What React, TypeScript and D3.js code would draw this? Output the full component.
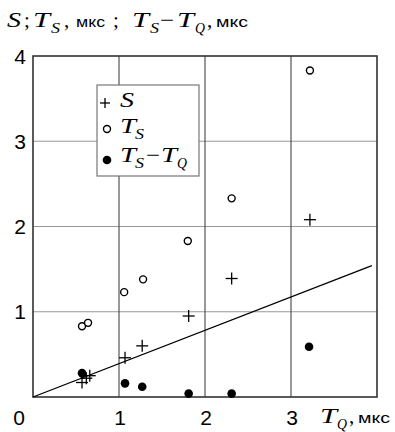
import React from "react";
import * as d3 from "d3";

const xTicks = [1, 2, 3];
const yTicks = [1, 2, 3];
const xTickLabels = ["1", "2", "3"];
const yTickLabels = ["1", "2", "3", "4"];

const sTQ = [0.57, 0.62, 0.66, 1.07, 1.27, 1.81, 2.31, 3.22];
const sVal = [0.17, 0.22, 0.25, 0.46, 0.6, 0.95, 1.39, 2.08];

const tsTQ = [0.57, 0.64, 1.06, 1.28, 1.8, 2.31, 3.22];
const tsVal = [0.83, 0.87, 1.23, 1.38, 1.83, 2.33, 3.83];

const dTQ = [0.57, 1.07, 1.27, 1.81, 2.31, 3.21];
const dVal = [0.28, 0.16, 0.12, 0.04, 0.04, 0.59];

const fitLine = [
  { x: 0, y: 0 },
  { x: 3.94, y: 1.54 },
];

const W = 395;
const H = 432;
const serif = "'Liberation Serif', 'DejaVu Serif', serif";
const sans = "'Liberation Sans', Arial, sans-serif";

type Piece = { t: string; x: number; k: "it" | "sub" | "up" | "unit"; len?: number };

function MathText({ pieces, y, size = 21 }: { pieces: Piece[]; y: number; size?: number }) {
  return (
    <g>
      {pieces.map((p, i) => {
        const stretch = p.len ? { textLength: p.len, lengthAdjust: "spacingAndGlyphs" } : {};
        if (p.k === "it")
          return (
            <text key={i} x={p.x} y={y} fontFamily={serif} fontStyle="italic" fontSize={size} {...stretch}>
              {p.t}
            </text>
          );
        if (p.k === "sub")
          return (
            <text key={i} x={p.x} y={y + 6} fontFamily={serif} fontStyle="italic" fontSize={size * 0.72} {...stretch}>
              {p.t}
            </text>
          );
        if (p.k === "up")
          return (
            <text key={i} x={p.x} y={y} fontFamily={serif} fontSize={size} {...stretch}>
              {p.t}
            </text>
          );
        return (
          <text key={i} x={p.x} y={y} fontFamily={sans} fontSize={14.5} {...stretch}>
            {p.t}
          </text>
        );
      })}
    </g>
  );
}

export default function App() {
  const x = d3.scaleLinear().domain([0, 4]).range([33, 377]);
  const y = d3.scaleLinear().domain([0, 4]).range([397, 56]);
  const line = d3
    .line<{ x: number; y: number }>()
    .x((d) => x(d.x))
    .y((d) => y(d.y));

  const cross = (cx: number, cy: number, k: string, r = 6) => (
    <g key={k} stroke="#000" strokeWidth={1.3}>
      <line x1={cx - r} x2={cx + r} y1={cy} y2={cy} />
      <line x1={cx} x2={cx} y1={cy - r} y2={cy + r} />
    </g>
  );

  const lx = 97,
    ly = 85,
    lw = 102,
    lh = 91;

  const titlePieces: Piece[] = [
    { t: "S", x: 7, k: "it", len: 14 },
    { t: ";", x: 24, k: "up" },
    { t: "T", x: 33, k: "it", len: 17 },
    { t: "S", x: 51, k: "sub", len: 9 },
    { t: ",", x: 64, k: "up" },
    { t: "мкс", x: 76, k: "unit", len: 29 },
    { t: ";", x: 113, k: "up" },
    { t: "T", x: 132, k: "it", len: 17 },
    { t: "S", x: 150, k: "sub", len: 9 },
    { t: "−", x: 160, k: "up", len: 14 },
    { t: "T", x: 177, k: "it", len: 17 },
    { t: "Q", x: 195, k: "sub", len: 10 },
    { t: ",", x: 207, k: "up" },
    { t: "мкс", x: 216, k: "unit", len: 32 },
  ];

  const xTitle: Piece[] = [
    { t: "T", x: 320, k: "it", len: 17 },
    { t: "Q", x: 337, k: "sub", len: 10 },
    { t: ",", x: 349, k: "up" },
    { t: "мкс", x: 358, k: "unit", len: 32 },
  ];

  return (
    <div style={{ position: "absolute", left: 0, top: 0, width: W, height: H, background: "#fff" }}>
      <svg width={W} height={H} style={{ display: "block" }}>
        <rect width={W} height={H} fill="#fff" />
        {/* grid */}
        {yTicks.map((t) => (
          <line key={"gy" + t} x1={x(0)} x2={x(4)} y1={y(t)} y2={y(t)} stroke="#999" strokeWidth={1.2} />
        ))}
        {xTicks.map((t) => (
          <line key={"gx" + t} x1={x(t)} x2={x(t)} y1={y(0)} y2={y(4)} stroke="#444" strokeWidth={1.1} />
        ))}
        {/* legend box */}
        <rect x={lx} y={ly} width={lw} height={lh} fill="#fff" stroke="#777" strokeWidth={1.2} />
        {cross(lx + 8, ly + 18, "lc", 5)}
        <MathText y={ly + 22} pieces={[{ t: "S", x: lx + 23, k: "it", len: 14 }]} />
        <circle cx={lx + 10} cy={ly + 44} r={3.5} fill="#fff" stroke="#000" strokeWidth={1.4} />
        <MathText
          y={ly + 48}
          pieces={[
            { t: "T", x: lx + 23, k: "it", len: 16 },
            { t: "S", x: lx + 38, k: "sub", len: 9 },
          ]}
        />
        <circle cx={lx + 10} cy={ly + 75} r={4.3} fill="#000" />
        <MathText
          y={ly + 77}
          pieces={[
            { t: "T", x: lx + 23, k: "it", len: 16 },
            { t: "S", x: lx + 38, k: "sub", len: 9 },
            { t: "−", x: lx + 49, k: "up", len: 14 },
            { t: "T", x: lx + 64, k: "it", len: 16 },
            { t: "Q", x: lx + 80, k: "sub", len: 10 },
          ]}
        />
        {/* frame */}
        <rect x={x(0)} y={y(4)} width={x(4) - x(0)} height={y(0) - y(4)} fill="none" stroke="#333" strokeWidth={1.6} />
        {/* fit line */}
        <path d={line(fitLine) || ""} fill="none" stroke="#000" strokeWidth={1.3} />
        {/* data */}
        {tsTQ.map((v, i) => (
          <circle key={"ts" + i} cx={x(v)} cy={y(tsVal[i])} r={3.5} fill="#fff" stroke="#000" strokeWidth={1.4} />
        ))}
        {sTQ.map((v, i) => cross(x(v), y(sVal[i]), "s" + i))}
        {dTQ.map((v, i) => (
          <circle key={"d" + i} cx={x(v)} cy={y(dVal[i])} r={4.3} fill="#000" />
        ))}
        {/* tick labels */}
        {xTicks.map((t, i) => (
          <text key={"xl" + t} x={x(t) + 1} y={425} textAnchor="middle" fontFamily={sans} fontSize={21}>
            {xTickLabels[i]}
          </text>
        ))}
        <text x={19} y={425} textAnchor="middle" fontFamily={sans} fontSize={21}>0</text>
        {[1, 2, 3, 4].map((t, i) => (
          <text key={"yl" + t} x={26} y={y(t) + 7.5} textAnchor="end" fontFamily={sans} fontSize={21}>
            {yTickLabels[i]}
          </text>
        ))}
        {/* x axis title */}
        <MathText y={423} pieces={xTitle} />
        {/* y axis title */}
        <MathText y={27} pieces={titlePieces} />
      </svg>
    </div>
  );
}
